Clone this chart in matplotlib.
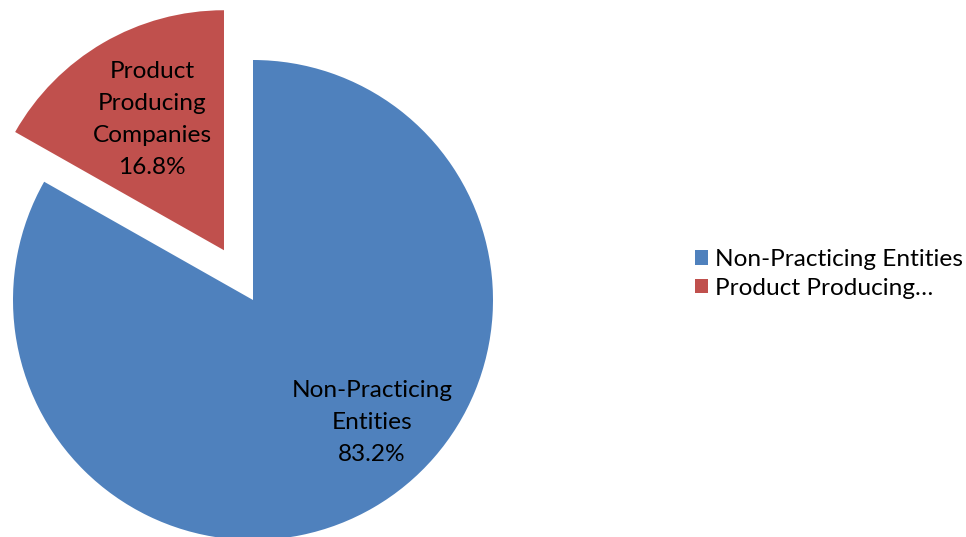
import matplotlib
matplotlib.use("Agg")
import matplotlib.pyplot as plt
from matplotlib.patches import Patch

plt.rcParams['font.family'] = ['Lato', 'DejaVu Sans']

categories = ["Non-Practicing Entities", "Product Producing Companies"]
legend_labels = ["Non-Practicing Entities", "Product Producing\u2026"]
shares = [83.2, 16.8]
colors = ["#4F81BD", "#C0504D"]
explode = [0, 0.24]

W, H = 966, 537
cx, cy, r = 253, 300, 240  # pixel centre / radius of pie

fig = plt.figure(figsize=(W / 100, H / 100), dpi=100)
ax = fig.add_axes([0, 0, 1, 1])
ax.pie(shares, colors=colors, explode=explode, startangle=90,
       counterclock=False, radius=1, wedgeprops=dict(linewidth=0))
ax.set_aspect('auto')
ax.set_xlim(-cx / r, (W - cx) / r)
ax.set_ylim(-(H - cy) / r, cy / r)
ax.axis('off')

# data labels
ax.text(0.496, -0.51, "Non-Practicing\nEntities\n%.1f%%" % shares[0],
        ha='center', va='center', fontsize=17.6, linespacing=1.65)
ax.text(-0.42, 0.752, "Product\nProducing\nCompanies\n%.1f%%" % shares[1],
        ha='center', va='center', fontsize=17.6, linespacing=1.65)

handles = [Patch(facecolor=c, edgecolor='none') for c in colors]
fig.legend(handles, legend_labels, loc='center left',
           bbox_to_anchor=(695 / W, 1 - 274 / H), frameon=False,
           fontsize=17.6, handlelength=0.55, handleheight=0.55,
           handletextpad=0.25, labelspacing=0.3, borderpad=0, borderaxespad=0)

fig.savefig("out.png", dpi=100)
